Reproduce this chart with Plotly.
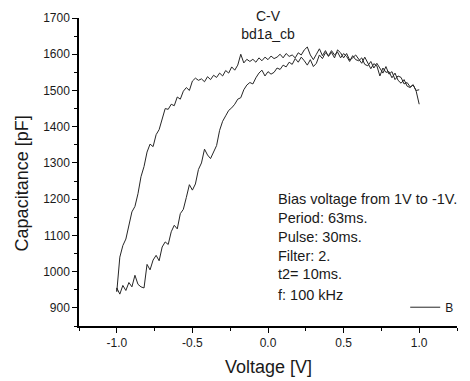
import plotly.graph_objects as go

# Voltage sweep grid (V)
voltage = [
    -1.00, -0.98, -0.96, -0.94, -0.92, -0.90, -0.88, -0.86, -0.84, -0.82,
    -0.80, -0.78, -0.76, -0.74, -0.72, -0.70, -0.68, -0.66, -0.64, -0.62,
    -0.60, -0.58, -0.56, -0.54, -0.52, -0.50, -0.48, -0.46, -0.44, -0.42,
    -0.40, -0.38, -0.36, -0.34, -0.32, -0.30, -0.28, -0.26, -0.24, -0.22,
    -0.20, -0.18, -0.16, -0.14, -0.12, -0.10, -0.08, -0.06, -0.04, -0.02,
    0.00, 0.02, 0.04, 0.06, 0.08, 0.10, 0.12, 0.14, 0.16, 0.18,
    0.20, 0.22, 0.24, 0.26, 0.28, 0.30, 0.32, 0.34, 0.36, 0.38,
    0.40, 0.42, 0.44, 0.46, 0.48, 0.50, 0.52, 0.54, 0.56, 0.58,
    0.60, 0.62, 0.64, 0.66, 0.68, 0.70, 0.72, 0.74, 0.76, 0.78,
    0.80, 0.82, 0.84, 0.86, 0.88, 0.90, 0.92, 0.94, 0.96, 0.98,
    1.00,
]

# Lower branch (sweep -1 V -> 1 V), capacitance in pF
cap_forward = [
    955, 938, 962, 948, 970, 958, 990, 965, 958, 955,
    1020, 1005, 1032, 1045, 1030, 1068, 1082, 1075, 1110, 1128,
    1118, 1160, 1172, 1205, 1240, 1225, 1242, 1282, 1300, 1338,
    1322, 1312, 1330, 1348, 1390, 1415, 1430, 1445, 1452, 1462,
    1476, 1480, 1502, 1515, 1522, 1518, 1535, 1548, 1556, 1540,
    1552, 1545, 1550, 1562, 1558, 1570, 1565, 1578, 1572, 1588,
    1578, 1592, 1582, 1570, 1585, 1566, 1575, 1598, 1588, 1604,
    1596, 1610, 1598, 1606, 1590, 1602, 1594, 1580, 1596, 1585,
    1582, 1590, 1572, 1568, 1580, 1562, 1575, 1560, 1548, 1566,
    1545, 1552, 1530, 1540, 1536, 1518, 1522, 1510, 1515, 1500,
    1502,
]

# Upper branch (sweep 1 V -> -1 V), listed at ascending voltages, pF
cap_reverse = [
    945, 1040, 1072, 1090, 1130, 1165, 1180, 1215, 1262, 1290,
    1330, 1352, 1345, 1378, 1392, 1418, 1450, 1448, 1462, 1458,
    1482, 1476, 1498, 1508, 1500, 1526, 1534, 1528, 1532, 1524,
    1538, 1530, 1542, 1536, 1548, 1540, 1555, 1548, 1565, 1556,
    1570, 1600, 1576, 1586, 1580, 1586, 1578, 1590, 1582, 1592,
    1585, 1595, 1588, 1592, 1600, 1590, 1602, 1594, 1598, 1590,
    1604, 1598, 1612, 1620, 1598, 1585, 1600, 1615, 1596, 1610,
    1594, 1605, 1590, 1612, 1604, 1590, 1602, 1584, 1590, 1598,
    1585, 1575, 1592, 1578, 1560, 1574, 1568, 1540, 1562, 1550,
    1552, 1535, 1548, 1528, 1520, 1530, 1512, 1508, 1516, 1498,
    1462,
]

x_tick_vals = [-1.0, -0.5, 0.0, 0.5, 1.0]
x_tick_text = ["-1.0", "-0.5", "0.0", "0.5", "1.0"]

info_lines = [
    "Bias voltage from 1V to -1V.",
    "Period: 63ms.",
    "Pulse: 30ms.",
    "Filter: 2.",
    "t2= 10ms.",
]
freq_text = "f: 100 kHz"

x_all = voltage[::-1] + voltage
y_all = cap_reverse[::-1] + cap_forward

FONT = "Liberation Sans, Arial, sans-serif"
TXT = "#1a1a1a"

fig = go.Figure()
fig.add_trace(go.Scatter(
    x=x_all, y=y_all, mode="lines", name="B",
    line=dict(color="#262626", width=1),
))

axis_common = dict(
    showline=True, linecolor="black", linewidth=1.5,
    ticks="outside", ticklen=5, tickwidth=1.2, tickcolor="black",
    showgrid=False, zeroline=False, mirror=False,
    tickfont=dict(family=FONT, size=12, color=TXT),
)

fig.update_xaxes(
    range=[-1.25, 1.25], tickvals=x_tick_vals, ticktext=x_tick_text,
    minor=dict(dtick=0.25, tick0=0, ticklen=3, tickwidth=1.2,
               tickcolor="black", ticks="outside", showgrid=False),
    **axis_common,
)
fig.update_yaxes(
    range=[850, 1700], dtick=100, tick0=0,
    minor=dict(dtick=50, tick0=0, ticklen=3, tickwidth=1.2,
               tickcolor="black", ticks="outside", showgrid=False),
    **axis_common,
)

fig.update_layout(
    width=470, height=381,
    margin=dict(l=79, r=11, t=15, b=55),
    paper_bgcolor="white", plot_bgcolor="white",
    font=dict(family=FONT, color=TXT),
    title=dict(text="C-V<br>bd1a_cb", x=0.5, xref="paper", xanchor="center",
               y=1 - 21 / 381, yref="container", yanchor="middle",
               font=dict(family=FONT, size=14, color=TXT)),
    showlegend=True,
    legend=dict(x=0.863, y=0.061, xanchor="left", yanchor="middle",
                bgcolor="rgba(0,0,0,0)", font=dict(family=FONT, size=12, color=TXT)),
    annotations=[
        dict(text="Voltage [V]", xref="paper", yref="paper", x=0.5, y=0,
             xanchor="center", yanchor="middle", yshift=-41, showarrow=False,
             font=dict(family=FONT, size=18, color=TXT)),
        dict(text="Capacitance [pF]", xref="paper", yref="paper", x=0, y=0.463,
             xanchor="center", yanchor="middle", xshift=-57, textangle=-90,
             showarrow=False, font=dict(family=FONT, size=18, color=TXT)),
        dict(text="<br>".join(info_lines), xref="paper", yref="paper",
             x=0.520, y=0.2916, xanchor="left", yanchor="middle", align="left",
             showarrow=False, font=dict(family=FONT, size=14.5, color=TXT)),
        dict(text=freq_text, xref="paper", yref="paper",
             x=0.520, y=0.0997, xanchor="left", yanchor="middle", align="left",
             showarrow=False, font=dict(family=FONT, size=14.5, color=TXT)),
    ],
)

fig.write_html("out.html")
